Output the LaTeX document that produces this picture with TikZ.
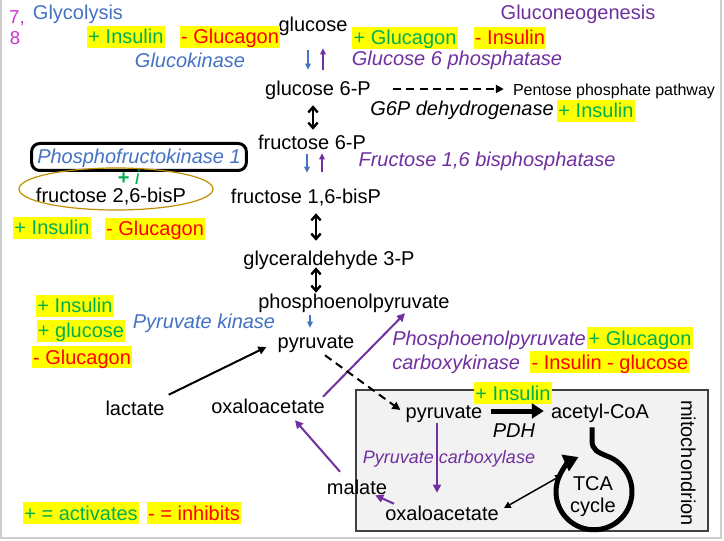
\documentclass[tikz,border=0pt]{standalone}
\usepackage{fontspec}
\setmainfont{Liberation Sans}
\usetikzlibrary{arrows.meta,calc}
\definecolor{glyblue}{RGB}{68,114,196}
\definecolor{gngpurple}{RGB}{112,48,160}
\definecolor{actgreen}{RGB}{0,176,80}
\definecolor{inhred}{RGB}{255,0,0}
\definecolor{hlyellow}{RGB}{255,255,0}
\definecolor{slidenum}{RGB}{204,51,204}
\definecolor{mitofill}{RGB}{242,242,242}
\definecolor{mitoedge}{RGB}{64,64,64}
\definecolor{ringgold}{RGB}{191,144,0}
\definecolor{slideedge}{RGB}{205,205,205}

\begin{document}
\begin{tikzpicture}[x=0.75pt,y=-0.75pt,
    txt/.style={font=\fontsize{15}{18}\selectfont, inner sep=0pt, text height=13.5pt, text depth=3pt},
    enz/.style={txt, font=\fontsize{15}{18}\selectfont\itshape},
    hl/.style={txt, fill=hlyellow, inner xsep=1pt},
    actbox/.style={hl, text=actgreen},
    inhbox/.style={hl, text=inhred},
    thinarr/.style={line width=1.1pt, -{Triangle[length=4.5pt,width=4pt]}},
    revarr/.style={line width=1.8pt, {Straight Barb[length=4pt,width=7pt]}-{Straight Barb[length=4pt,width=7pt]}},
    longarr/.style={line width=1.5pt, -{Triangle[length=6pt,width=6pt]}},
    dasharr/.style={longarr, dash pattern=on 6pt off 4pt}]
  \fill[white] (0,0) rectangle (724,541);
  \useasboundingbox (0,0) rectangle (724,541);
  \draw[slideedge, line width=0.8pt] (1,0) -- (1,538) -- (721,538) -- (721,0);

  \draw[mitoedge, fill=mitofill, line width=0.9pt] (356,390) rectangle (708,531);
  \node[txt, rotate=-90] (mito) at (688,463) {mitochondrion};

  \node[txt, text=slidenum, font=\fontsize{14}{16}\selectfont] (slno7) at (17,17) {7,};
  \node[txt, text=slidenum, font=\fontsize{14}{16}\selectfont] (slno8) at (15,38) {8};
  \node[txt, text=glyblue] (glyc) at (78,13) {Glycolysis};
  \node[txt, text=gngpurple] (gng) at (578,13) {Gluconeogenesis};

  \node[txt] (glc) at (313,25) {glucose};
  \node[txt] (g6p) at (318,89) {glucose 6-P};
  \node[txt] (f6p) at (312,143) {fructose 6-P};
  \node[txt] (f16bp) at (306,197) {fructose 1,6-bisP};
  \node[txt] (gap) at (329,259) {glyceraldehyde 3-P};
  \node[txt] (pep) at (354,302) {phosphoenolpyruvate};
  \node[txt] (pyr) at (316,342) {pyruvate};
  \node[txt] (lac) at (135,408) {lactate};
  \node[txt] (oaa) at (268,406) {oxaloacetate};
  \node[txt] (mal) at (357,487) {malate};
  \node[txt] (mpyr) at (444,411) {pyruvate};
  \node[txt] (acoa) at (600,411) {acetyl-CoA};
  \node[txt] (moaa) at (442,513) {oxaloacetate};
  \node[font=\fontsize{15}{16.5}\selectfont, align=center, inner sep=0pt] (tca) at (593,497) {TCA\\cycle};
  \node[txt, font=\fontsize{12}{14}\selectfont] (ppp) at (614,89) {Pentose phosphate pathway};
  \node[txt] (f26bp) at (111,196) {fructose 2,6-bisP};

  \node[enz, text=glyblue] (gk) at (190,61) {Glucokinase};
  \node[enz, text=gngpurple] (g6pase) at (457,59) {Glucose 6 phosphatase};
  \node[enz] (g6pdh) at (462,109) {G6P dehydrogenase};
  \node[enz, text=gngpurple] (fbpase) at (487,160) {Fructose 1,6 bisphosphatase};
  \node[enz, text=glyblue] (pk) at (204,322) {Pyruvate kinase};
  \node[enz, text=gngpurple, anchor=west] (pepck) at (392,338) {Phosphoenolpyruvate};
  \node[enz, text=gngpurple, anchor=west] (pepcklow) at (392,362) {carboxykinase};
  \node[enz] (pdh) at (514,430) {PDH};
  \node[enz, text=gngpurple, font=\fontsize{13.5}{16}\selectfont\itshape] (pc) at (449,456) {Pyruvate carboxylase};

  \node[enz, text=glyblue, draw=black, line width=2.25pt, rounded corners=6pt,
    minimum width=161pt, minimum height=20.25pt] (pfk) at (139,157) {Phosphofructokinase 1};
  \draw[ringgold, line width=0.9pt] (116,189) ellipse [x radius=97, y radius=21];
  \node[txt, text=actgreen, text height=11pt, text depth=0pt] (pfkplus) at (129,177) {\textbf{+} \textit{i}};

  \foreach \n/\x/\y/\s/\t in {
      ins1/126/37/actbox/+ Insulin,
      glcg1/230/37/inhbox/- Glucagon,
      glcg2/405/38/actbox/+ Glucagon,
      ins2/510/38/inhbox/- Insulin,
      ins3/596/111/actbox/+ Insulin,
      ins4/52/228/actbox/+ Insulin,
      glcg3/155/229/inhbox/- Glucagon,
      ins5/75/306/actbox/+ Insulin,
      glu1/81/331/actbox/+ glucose,
      glcg4/82/357/inhbox/- Glucagon,
      glcg5/640/338/actbox/+ Glucagon,
      ins6/610/362/inhbox/- Insulin - glucose,
      ins7/513/393/actbox/+ Insulin,
      keyact/81/513/actbox/+ = activates,
      keyinh/194/513/inhbox/- = inhibits}{
    \node[\s] (\n) at (\x,\y) {\t};
  }

  \draw[thinarr, glyblue] ($(glc.south)+(-5,14)$) -- ($(g6p.north)+(-10,-8)$);
  \draw[thinarr, gngpurple] ($(g6p.north)+(5,-8)$) -- ($(glc.south)+(10,12)$);
  \draw[revarr] ($(g6p.south)+(-5,5)$) -- ($(f6p.north)+(1,-2)$);
  \draw[thinarr, glyblue] ($(f6p.south)+(-5,0)$) -- ($(f16bp.north)+(1,-13)$);
  \draw[thinarr, gngpurple] ($(f16bp.north)+(16,-14)$) -- ($(f6p.south)+(10,-1)$);
  \draw[revarr] ($(f16bp.south)+(10,5)$) -- ($(gap.north)+(-13,-7)$);
  \draw[revarr] ($(gap.south)+(-13,-3)$) -- ($(pep.north)+(-38,2)$);
  \draw[thinarr, glyblue] ($(pep.south)+(-44,2)$) -- ($(pyr.north)+(-6,-3)$);
  \draw[dasharr] ($(g6p.east)+(22,0)$) -- ($(ppp.west)+(-9,0)$);

  \draw[longarr] ($(lac.north east)+(4,-2)$) -- ($(pyr.west)+(-11,5)$);
  \draw[longarr, gngpurple] ($(oaa.north east)+(-2,2)$) -- ($(pep.south)+(51,0)$);
  \draw[dasharr] ($(pyr.south)+(9,2)$) -- ($(mpyr.west)+(-5,-1)$);
  \draw[line width=3.75pt, -{Triangle[length=9pt,width=11pt]}] ($(mpyr.east)+(8,0)$) -- ($(acoa.west)+(-7,0)$);
  \draw[longarr, gngpurple, line width=1.3pt] ($(mpyr.south)+(-7,1)$) -- ($(moaa.north)+(-5,-9)$);
  \draw[longarr, gngpurple] ($(moaa.north west)+(9,2)$) -- ($(mal.south east)+(-12,-3)$);
  \draw[longarr, gngpurple] ($(mal.north)+(-17,-4)$) -- ($(oaa.south)+(27,3)$);
  \draw[line width=1.1pt, {Triangle[length=5pt,width=5pt]}-{Triangle[length=5pt,width=5pt]}] ($(moaa.east)+(5,-5)$) -- ($(tca)+(-31,-22)$);

  \draw[line width=3.75pt, -{Triangle[length=11pt,width=13pt]}] ($(acoa.south)+(-8,5)$) -- ++(0,13)
    .. controls ++(0,10) and ++(-9,-3.8) .. ++(15,15.8)
    arc[start angle=-70, end angle=246, radius=38];
\end{tikzpicture}
\end{document}
